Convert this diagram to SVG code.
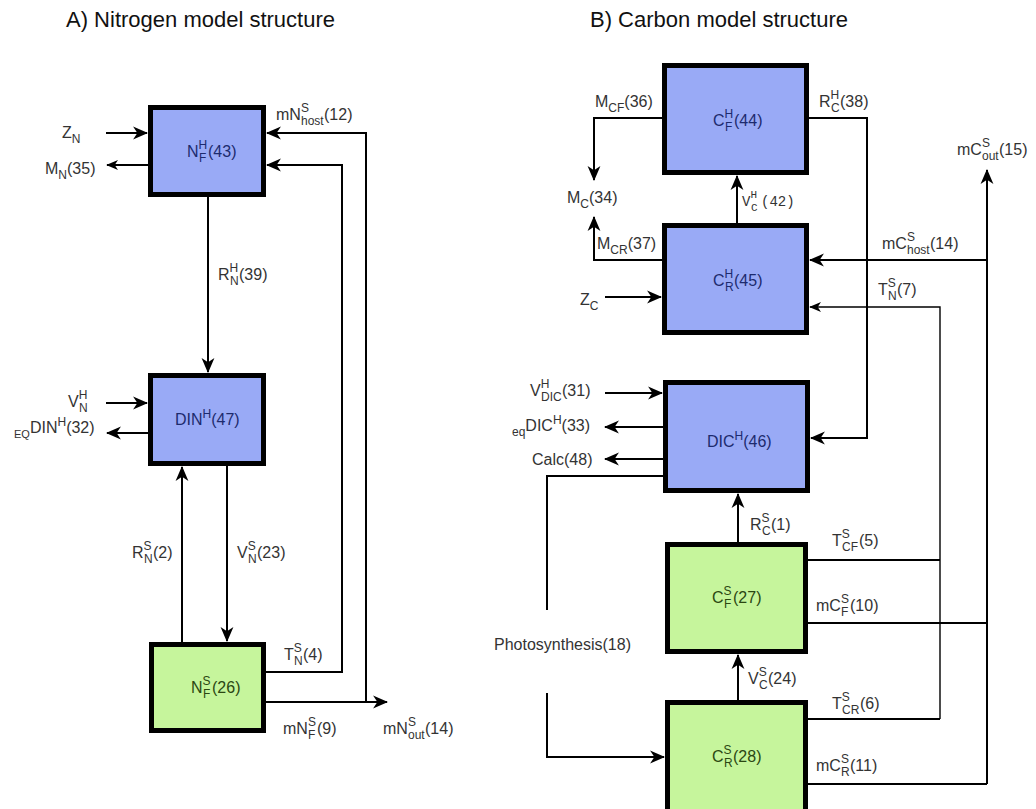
<svg xmlns="http://www.w3.org/2000/svg" width="1036" height="809" viewBox="0 0 1036 809">
<defs>
<style>
text{font-family:"Liberation Sans",Arial,sans-serif;font-size:16px;fill:#333}
.s{font-size:12px}
.e{font-size:11px}
.title{font-size:22px;fill:#111}
.bt{fill:#1d2b6e}
.gt{fill:#2b4712}
.mono{font-family:"Liberation Mono","Courier New",monospace;font-size:14px}
.monos{font-family:"Liberation Mono","Courier New",monospace;font-size:11px}
.box{stroke:#000;stroke-width:5}
.blue{fill:#99aaf6}
.green{fill:#c6f59c}
.c{fill:none;stroke:#000;stroke-width:2}
.thin{stroke-width:1.4}
</style>
<marker id="ah" viewBox="0 0 14 14" refX="13" refY="7" markerWidth="15" markerHeight="15" orient="auto" markerUnits="userSpaceOnUse">
<path d="M0,1 L14,7 L0,13 L4,7 Z" fill="#000"/>
</marker>
<marker id="ahs" viewBox="0 0 14 14" refX="13" refY="7" markerWidth="12" markerHeight="12" orient="auto" markerUnits="userSpaceOnUse">
<path d="M0,1 L14,7 L0,13 L4,7 Z" fill="#000"/>
</marker>
</defs>
<rect width="1036" height="809" fill="#fff"/>
<text class="title" x="66" y="27">A) Nitrogen model structure</text>
<text class="title" x="590" y="27">B) Carbon model structure</text>

<g id="connectors">
<path class="c" d="M106,133 H147" marker-end="url(#ah)"/>
<path class="c" d="M148,165 H107" marker-end="url(#ahs)"/>
<path class="c" d="M208,197 V372" marker-end="url(#ah)"/>
<path class="c" d="M106,403 H147" marker-end="url(#ah)"/>
<path class="c" d="M148,433 H107" marker-end="url(#ah)"/>
<path class="c" d="M182,642 V467" marker-end="url(#ah)"/>
<path class="c" d="M227,466 V641" marker-end="url(#ah)"/>
<path class="c" d="M266,672 H342 V165 H267" marker-end="url(#ah)"/>
<path class="c" d="M366,702 V133 H267" marker-end="url(#ah)"/>
<path class="c" d="M266,702 H387" marker-end="url(#ah)"/>
<path class="c" d="M662,118 H594 V180" marker-end="url(#ah)"/>
<path class="c" d="M662,260 H594 V217" marker-end="url(#ah)"/>
<path class="c" d="M809,118 H867 V438 H811" marker-end="url(#ah)"/>
<path class="c" d="M737,223 V176" marker-end="url(#ah)"/>
<path class="c" d="M987,260 H810" marker-end="url(#ah)"/>
<path class="c" d="M987,784 V170" marker-end="url(#ah)"/>
<path class="c" d="M808,623 H987"/>
<path class="c" d="M808,784 H987"/>
<path class="c" d="M605,297 H661" marker-end="url(#ah)"/>
<path class="c thin" d="M940,719 V307 H810" marker-end="url(#ahs)"/>
<path class="c" d="M808,560 H940"/>
<path class="c" d="M808,719 H940"/>
<path class="c" d="M738,542 V494" marker-end="url(#ah)"/>
<path class="c" d="M738,700 V655" marker-end="url(#ah)"/>
<path class="c" d="M605,393 H662" marker-end="url(#ah)"/>
<path class="c" d="M663,427 H605" marker-end="url(#ah)"/>
<path class="c" d="M663,459 H605" marker-end="url(#ah)"/>
<path class="c" d="M663,476 H547 V610"/>
<path class="c" d="M547,693 V757 H664" marker-end="url(#ah)"/>
</g>

<g id="connector-labels">
<text x="62" y="138">Z<tspan class="s" dy="5">N</tspan></text>
<text x="45" y="174">M<tspan class="s" dy="5">N</tspan><tspan dy="-5">(35)</tspan></text>
<text x="276" y="120">mN<tspan class="s" dy="-8">S</tspan><tspan class="s" x="301" dy="13">host</tspan><tspan x="324" dy="-5">(12)</tspan></text>
<text x="218" y="280">R<tspan class="s" dy="-8">H</tspan><tspan class="s" x="230" dy="13">N</tspan><tspan x="239" dy="-5">(39)</tspan></text>
<text x="68" y="407">V<tspan class="s" dy="-8">H</tspan><tspan class="s" x="79" dy="13">N</tspan></text>
<text x="14" y="433"><tspan class="e" dy="5">EQ</tspan><tspan dy="-5">DIN</tspan><tspan class="s" dy="-7">H</tspan><tspan dy="7">(32)</tspan></text>
<text x="132" y="558">R<tspan class="s" dy="-8">S</tspan><tspan class="s" x="144" dy="13">N</tspan><tspan x="153" dy="-5">(2)</tspan></text>
<text x="237" y="558">V<tspan class="s" dy="-8">S</tspan><tspan class="s" x="248" dy="13">N</tspan><tspan x="257" dy="-5">(23)</tspan></text>
<text x="284" y="660">T<tspan class="s" dy="-8">S</tspan><tspan class="s" x="294" dy="13">N</tspan><tspan x="303" dy="-5">(4)</tspan></text>
<text x="283" y="734">mN<tspan class="s" dy="-8">S</tspan><tspan class="s" x="308" dy="13">F</tspan><tspan x="317" dy="-5">(9)</tspan></text>
<text x="383" y="734">mN<tspan class="s" dy="-8">S</tspan><tspan class="s" x="408" dy="13">out</tspan><tspan x="425" dy="-5">(14)</tspan></text>

<text x="595" y="107">M<tspan class="s" dy="5">CF</tspan><tspan dy="-5">(36)</tspan></text>
<text x="819" y="107">R<tspan class="s" dy="-8">H</tspan><tspan class="s" x="831" dy="13">C</tspan><tspan x="840" dy="-5">(38)</tspan></text>
<text x="567" y="203">M<tspan class="s" dy="5">C</tspan><tspan dy="-5">(34)</tspan></text>
<text class="mono" x="742" y="206">V<tspan class="monos" dy="-8">H</tspan><tspan class="monos" x="751" dy="13">C</tspan><tspan x="761" dy="-5">(42)</tspan></text>
<text x="957" y="155">mC<tspan class="s" dy="-8">S</tspan><tspan class="s" x="982" dy="13">out</tspan><tspan x="999" dy="-5">(15)</tspan></text>
<text x="597" y="249">M<tspan class="s" dy="5">CR</tspan><tspan dy="-5">(37)</tspan></text>
<text x="882" y="249">mC<tspan class="s" dy="-8">S</tspan><tspan class="s" x="907" dy="13">host</tspan><tspan x="930" dy="-5">(14)</tspan></text>
<text x="878" y="295">T<tspan class="s" dy="-8">S</tspan><tspan class="s" x="888" dy="13">N</tspan><tspan x="897" dy="-5">(7)</tspan></text>
<text x="580" y="305">Z<tspan class="s" dy="5">C</tspan></text>
<text x="530" y="396">V<tspan class="s" dy="-8">H</tspan><tspan class="s" x="541" dy="13">DIC</tspan><tspan x="562" dy="-5">(31)</tspan></text>
<text x="512" y="431"><tspan class="s" dy="5">eq</tspan><tspan dy="-5">DIC</tspan><tspan class="s" dy="-7">H</tspan><tspan dy="7">(33)</tspan></text>
<text x="532" y="465">Calc(48)</text>
<text x="750" y="530">R<tspan class="s" dy="-8">S</tspan><tspan class="s" x="762" dy="13">C</tspan><tspan x="771" dy="-5">(1)</tspan></text>
<text x="832" y="546">T<tspan class="s" dy="-8">S</tspan><tspan class="s" x="842" dy="13">CF</tspan><tspan x="859" dy="-5">(5)</tspan></text>
<text x="816" y="611">mC<tspan class="s" dy="-8">S</tspan><tspan class="s" x="841" dy="13">F</tspan><tspan x="850" dy="-5">(10)</tspan></text>
<text x="494" y="650">Photosynthesis(18)</text>
<text x="748" y="684">V<tspan class="s" dy="-8">S</tspan><tspan class="s" x="759" dy="13">C</tspan><tspan x="768" dy="-5">(24)</tspan></text>
<text x="832" y="709">T<tspan class="s" dy="-8">S</tspan><tspan class="s" x="842" dy="13">CR</tspan><tspan x="860" dy="-5">(6)</tspan></text>
<text x="816" y="771">mC<tspan class="s" dy="-8">S</tspan><tspan class="s" x="841" dy="13">R</tspan><tspan x="850" dy="-5">(11)</tspan></text>
</g>

<g id="node-NFH">
<rect class="box blue" x="150.5" y="107.5" width="113" height="87"/>
<text class="bt" x="187" y="157">N<tspan class="s bt" dy="-8">H</tspan><tspan class="s bt" x="199" dy="13">F</tspan><tspan class="bt" x="208" dy="-5">(43)</tspan></text>
</g>
<g id="node-DINH">
<rect class="box blue" x="150.5" y="375.5" width="113" height="88"/>
<text class="bt" x="175" y="425">DIN<tspan class="s bt" dy="-7">H</tspan><tspan class="bt" dy="7">(47)</tspan></text>
</g>
<g id="node-NFS">
<rect class="box green" x="151.5" y="644.5" width="112" height="86"/>
<text class="gt" x="191" y="693">N<tspan class="s gt" dy="-8">S</tspan><tspan class="s gt" x="203" dy="13">F</tspan><tspan class="gt" x="212" dy="-5">(26)</tspan></text>
</g>
<g id="node-CFH">
<rect class="box blue" x="664.5" y="65.5" width="142" height="107"/>
<text class="bt" x="713" y="126">C<tspan class="s bt" dy="-8">H</tspan><tspan class="s bt" x="725" dy="13">F</tspan><tspan class="bt" x="734" dy="-5">(44)</tspan></text>
</g>
<g id="node-CRH">
<rect class="box blue" x="664.5" y="225.5" width="142" height="107"/>
<text class="bt" x="713" y="286">C<tspan class="s bt" dy="-8">H</tspan><tspan class="s bt" x="725" dy="13">R</tspan><tspan class="bt" x="734" dy="-5">(45)</tspan></text>
</g>
<g id="node-DICH">
<rect class="box blue" x="665.5" y="382.5" width="142" height="108"/>
<text class="bt" x="707" y="447">DIC<tspan class="s bt" dy="-7">H</tspan><tspan class="bt" dy="7">(46)</tspan></text>
</g>
<g id="node-CFS">
<rect class="box green" x="667.5" y="544.5" width="138" height="107"/>
<text class="gt" x="712" y="603">C<tspan class="s gt" dy="-8">S</tspan><tspan class="s gt" x="724" dy="13">F</tspan><tspan class="gt" x="733" dy="-5">(27)</tspan></text>
</g>
<g id="node-CRS">
<rect class="box green" x="667.5" y="702.5" width="138" height="110"/>
<text class="gt" x="712" y="762">C<tspan class="s gt" dy="-8">S</tspan><tspan class="s gt" x="724" dy="13">R</tspan><tspan class="gt" x="733" dy="-5">(28)</tspan></text>
</g>
</svg>
